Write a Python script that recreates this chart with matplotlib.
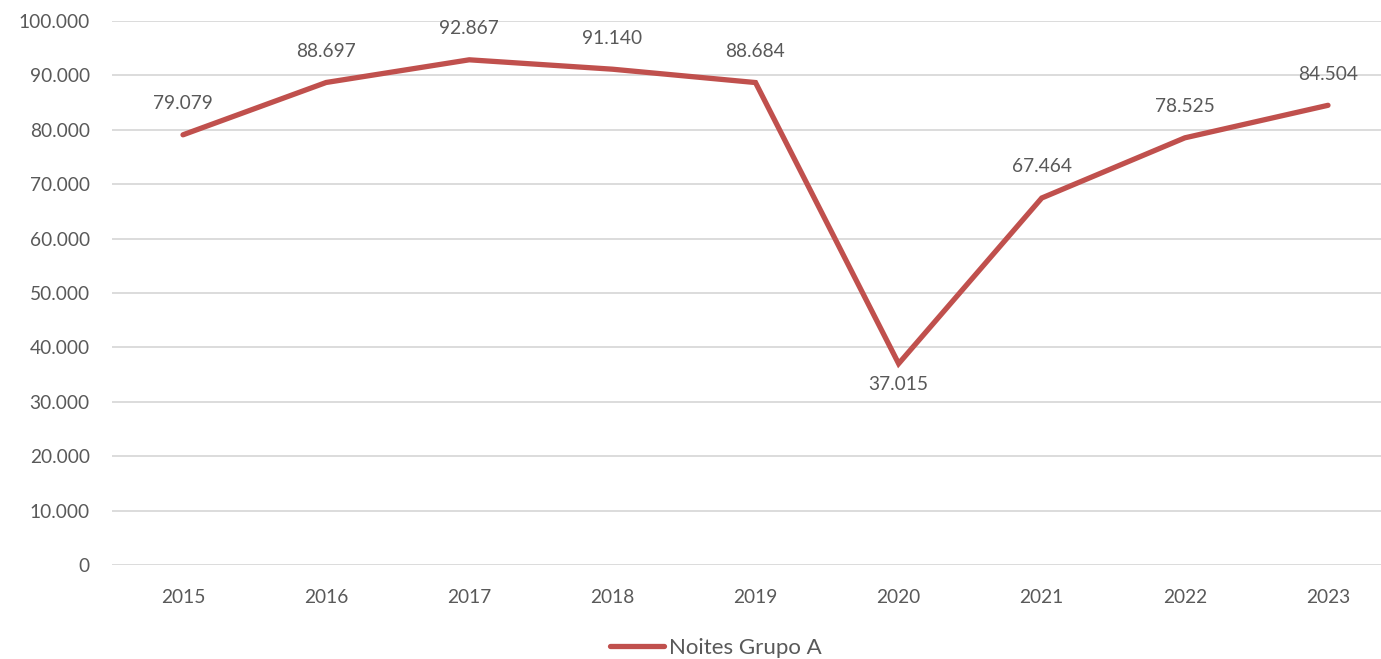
import matplotlib.pyplot as plt
from matplotlib.ticker import FuncFormatter

plt.rcParams['font.family'] = ['Lato', 'DejaVu Sans']

# dados
anos = ['2015', '2016', '2017', '2018', '2019', '2020', '2021', '2022', '2023']
noites = [79079, 88697, 92867, 91140, 88684, 37015, 67464, 78525, 84504]
serie = 'Noites Grupo A'

cor_linha = '#C0504D'
cor_texto = '#595959'
cor_grade = '#D9D9D9'

W, H = 1381, 659
fig = plt.figure(figsize=(W / 100, H / 100), dpi=100)

# eixo: esquerda 112px, base 565px, topo 21px, direita na borda
esq, dir_, topo, base = 112, 1381, 21, 565
ax = fig.add_axes([esq / W, (H - base) / H, (dir_ - esq) / W, (base - topo) / H])

x = list(range(len(anos)))
ax.plot(x, noites, color=cor_linha, lw=3.8, solid_capstyle='round',
        solid_joinstyle='miter', label=serie, zorder=3)

def fmt(v):
    return f'{int(round(v)):,}'.replace(',', '.')

for i, v in enumerate(noites):
    if anos[i] == '2020':
        off = -21
    else:
        off = 31
    ax.annotate(fmt(v), (i, v), xytext=(0, off * 0.72), textcoords='offset points',
                ha='center', va='center', fontsize=13.8, color=cor_texto)

px = 143.125
ax.set_xlim(-(183 - esq) / px, 8 + (dir_ - 1328) / px)
ax.set_ylim(0, 100000)
ax.set_yticks(range(0, 100001, 10000))
ax.yaxis.set_major_formatter(FuncFormatter(lambda v, p: fmt(v)))
ax.set_xticks(x)
ax.set_xticklabels(anos)

ax.grid(axis='y', color=cor_grade, lw=1.3)
ax.set_axisbelow(True)
for s in ax.spines.values():
    s.set_visible(False)
ax.tick_params(axis='both', length=0, labelsize=13.8, labelcolor=cor_texto)
ax.tick_params(axis='y', pad=16)
ax.tick_params(axis='x', pad=17)

fig.legend(loc='center', bbox_to_anchor=(716 / W, 1 - 648 / H), frameon=False,
           fontsize=16, labelcolor=cor_texto, handlelength=2.4, handletextpad=0.25)

fig.savefig('out.png', dpi=100)
